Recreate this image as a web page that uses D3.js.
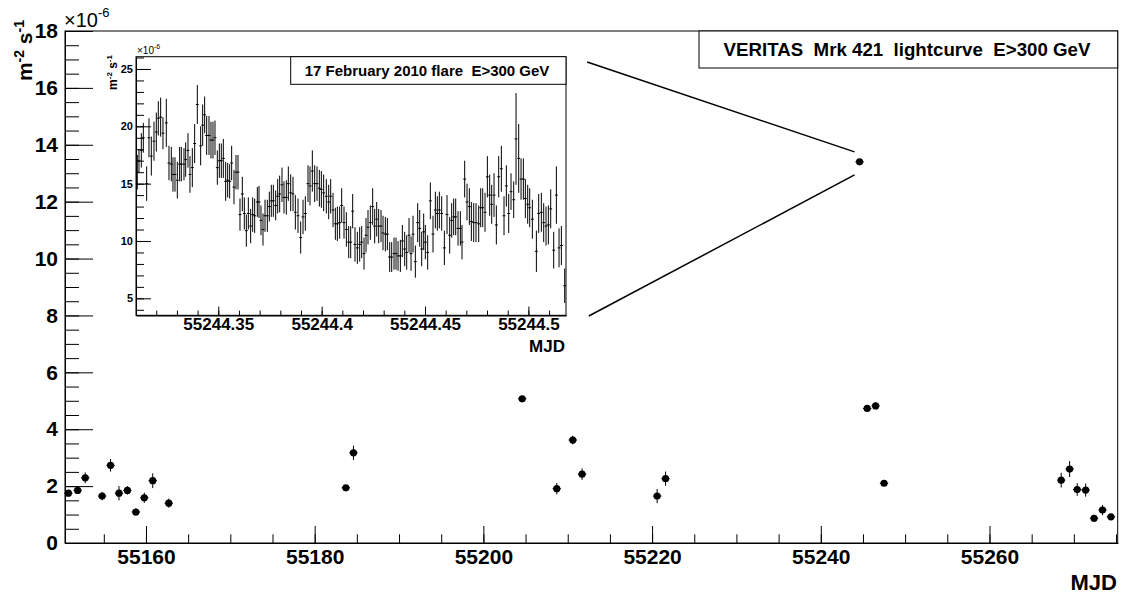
<!DOCTYPE html>
<html>
<head>
<meta charset="utf-8">
<script src="https://cdn.jsdelivr.net/npm/d3@7"></script>
<style>
body { margin: 0; background: #fff; }
text { font-family: "Liberation Sans", Arial, sans-serif; font-weight: bold; fill: #000; }
</style>
</head>
<body>
<svg id="chart" width="1121" height="594"></svg>
<script>
// VERITAS Mrk 421 nightly flux, E>300 GeV (units of 1e-6 m^-2 s^-1)
var mjd = [55150.8, 55151.9, 55152.8, 55154.8, 55155.8, 55156.8, 55157.8, 55158.8, 55159.8, 55160.8,
           55162.7, 55183.7, 55184.6, 55204.6, 55208.7, 55210.6, 55211.7, 55220.6, 55221.6, 55244.6,
           55245.5, 55246.5, 55247.5, 55268.5, 55269.5, 55270.4, 55271.4, 55272.4, 55273.4, 55274.4];
var flux = [1.75, 1.85, 2.29, 1.65, 2.73, 1.75, 1.85, 1.09, 1.59, 2.19,
            1.40, 1.94, 3.17, 5.07, 1.91, 3.62, 2.42, 1.65, 2.26, 13.4,
            4.73, 4.82, 2.10, 2.21, 2.60, 1.88, 1.86, 0.87, 1.16, 0.92];
var fluxErr = [0.10, 0.10, 0.19, 0.15, 0.22, 0.25, 0.15, 0.13, 0.18, 0.26,
               0.16, 0.10, 0.25, 0.08, 0.20, 0.15, 0.20, 0.25, 0.25, 0.10,
               0.08, 0.08, 0.08, 0.26, 0.28, 0.22, 0.23, 0.12, 0.18, 0.10];
var mjdErr = 0.5;

// 17 February 2010 flare, short time bins
var flareMjd = [
  55244.31083, 55244.31164, 55244.31277, 55244.31374, 55244.31535, 55244.31648, 55244.31761, 55244.31890, 55244.32003, 55244.32099,
  55244.32212, 55244.32325, 55244.32486, 55244.32615, 55244.32728, 55244.32809, 55244.32906, 55244.33019, 55244.33131, 55244.33212,
  55244.33341, 55244.33422, 55244.33535, 55244.33631, 55244.33744, 55244.33857, 55244.33986, 55244.34147, 55244.34244, 55244.34341,
  55244.34438, 55244.34551, 55244.34647, 55244.34744, 55244.34841, 55244.34954, 55244.35051, 55244.35147, 55244.35244, 55244.35357,
  55244.35454, 55244.35550, 55244.35647, 55244.35760, 55244.35857, 55244.35954, 55244.36050, 55244.36163, 55244.36260, 55244.36357,
  55244.36454, 55244.36566, 55244.36663, 55244.36760, 55244.36889, 55244.36970, 55244.37066, 55244.37163, 55244.37260, 55244.37373,
  55244.37470, 55244.37566, 55244.37663, 55244.37776, 55244.37873, 55244.37969,
  55244.38083, 55244.38179, 55244.38292, 55244.38389, 55244.38502, 55244.38615, 55244.38728, 55244.38857, 55244.38986, 55244.39099,
  55244.39211, 55244.39340, 55244.39437, 55244.39550, 55244.39663, 55244.39776, 55244.39889, 55244.39986, 55244.40098, 55244.40227,
  55244.40340, 55244.40437, 55244.40550, 55244.40663, 55244.40760, 55244.40872, 55244.40969, 55244.41082, 55244.41195, 55244.41308,
  55244.41405, 55244.41501, 55244.41614, 55244.41727, 55244.41840, 55244.41937, 55244.42050, 55244.42147, 55244.42243, 55244.42356,
  55244.42469, 55244.42566, 55244.42663, 55244.42759, 55244.42872, 55244.42969, 55244.43082, 55244.43179, 55244.43292, 55244.43388,
  55244.43501, 55244.43598, 55244.43695, 55244.43808, 55244.43904, 55244.44017, 55244.44114, 55244.44227, 55244.44324, 55244.44420,
  55244.44533, 55244.44646, 55244.44743, 55244.44840, 55244.44936,
  55244.45016, 55244.45129, 55244.45258, 55244.45387, 55244.45500, 55244.45597, 55244.45694, 55244.45806, 55244.45936, 55244.46065,
  55244.46194, 55244.46290, 55244.46387, 55244.46484, 55244.46597, 55244.46710, 55244.46790, 55244.46919, 55244.47032, 55244.47145,
  55244.47242, 55244.47355, 55244.47468, 55244.47597, 55244.47693, 55244.47790, 55244.47903, 55244.48016, 55244.48129, 55244.48226,
  55244.48338, 55244.48451, 55244.48564, 55244.48693, 55244.48822, 55244.48935, 55244.49048, 55244.49161, 55244.49290, 55244.49403,
  55244.49532, 55244.49645, 55244.49758, 55244.49854, 55244.49967, 55244.50064, 55244.50193, 55244.50387, 55244.50499, 55244.50628,
  55244.50741, 55244.50854, 55244.50967, 55244.51080, 55244.51225, 55244.51354, 55244.51483, 55244.51596, 55244.51757];
var flareFlux = [
  16.0, 17.0, 17.9, 19.0, 15.0, 19.0, 17.4, 18.7, 19.5, 20.7,
  20.8, 19.4, 20.3, 16.8, 16.7, 15.8, 15.8, 15.3, 16.7, 16.7,
  16.7, 17.1, 17.9, 15.8, 16.4, 18.5, 21.9, 18.3, 20.1, 21.0,
  19.2, 19.2, 18.8, 18.8, 19.0, 16.4, 17.0, 17.0, 17.2, 15.2,
  15.3, 15.2, 16.8, 14.7, 16.0, 16.0, 12.3, 14.1, 12.4, 10.9,
  12.4, 11.3, 12.3, 12.2, 13.4, 13.4, 11.8, 11.0, 12.2, 12.2,
  13.0, 13.5, 13.5, 13.1, 13.9, 14.1,
  14.9, 13.8, 13.8, 15.0, 14.2, 14.1, 12.5, 12.2, 10.3, 12.1,
  12.4, 15.0, 14.8, 16.1, 15.0, 15.0, 14.6, 14.5, 14.2, 13.9,
  13.4, 13.9, 12.7, 11.5, 11.5, 11.6, 13.1, 11.6, 11.0, 9.9,
  9.9, 12.6, 9.7, 9.4, 9.7, 9.9, 8.9, 10.5, 11.2, 11.6,
  13.0, 11.3, 11.9, 11.3, 11.3, 10.7, 10.6, 10.6, 8.6, 8.6,
  8.9, 8.9, 8.7, 8.7, 10.0, 9.3, 9.0, 10.5, 8.9, 10.6,
  8.2, 11.6, 11.1, 9.3, 10.8,
  9.9, 9.0, 13.5, 10.6, 12.7, 12.4, 12.7, 12.4, 9.4, 12.3,
  10.5, 11.8, 12.1, 12.1, 11.1, 11.1, 9.9, 15.4, 13.4, 13.0,
  11.7, 11.6, 11.6, 11.5, 12.9, 12.9, 12.5, 15.6, 14.0, 13.2,
  14.0, 11.4, 15.6, 16.3, 12.2, 14.8, 12.4, 14.3, 13.6, 18.9,
  17.2, 15.4, 15.4, 13.7, 13.2, 12.9, 11.9, 9.1, 12.4, 12.5,
  11.6, 11.3, 11.4, 12.8, 9.2, 14.0, 9.4, 9.6, 6.1];
var flareErr = [
  1.5, 1.0, 1.5, 1.3, 1.5, 1.7, 1.7, 1.7, 1.7, 1.5,
  1.7, 1.4, 2.1, 1.5, 1.5, 1.5, 1.5, 1.6, 1.5, 1.5,
  1.4, 1.5, 1.5, 1.6, 1.7, 1.7, 1.7, 1.7, 1.8, 1.6,
  1.7, 1.7, 1.6, 1.6, 1.5, 1.5, 1.5, 1.5, 1.7, 1.7,
  1.5, 1.5, 1.5, 1.5, 1.5, 1.5, 1.4, 1.5, 1.4, 1.4,
  1.4, 1.5, 1.5, 1.5, 1.3, 1.4, 1.3, 1.4, 1.4, 1.4,
  1.3, 1.4, 1.4, 1.3, 1.5, 1.6,
  1.5, 1.4, 1.5, 1.5, 1.6, 1.5, 1.5, 1.5, 1.4, 1.5,
  1.5, 1.6, 1.7, 1.8, 1.6, 1.5, 1.6, 1.6, 1.6, 1.5,
  1.5, 1.5, 1.5, 1.4, 1.5, 1.4, 1.5, 1.4, 1.5, 1.4,
  1.4, 1.5, 1.5, 1.4, 1.5, 1.4, 1.4, 1.5, 1.5, 1.5,
  1.6, 1.5, 1.5, 1.5, 1.4, 1.5, 1.5, 1.4, 1.3, 1.3,
  1.4, 1.4, 1.3, 1.4, 1.4, 1.5, 1.5, 1.5, 1.5, 1.6,
  1.4, 1.7, 1.6, 1.5, 1.6,
  1.5, 1.5, 1.6, 1.6, 1.6, 1.5, 1.6, 1.5, 1.5, 1.7,
  1.6, 1.5, 1.6, 1.6, 1.5, 1.5, 1.5, 1.6, 1.6, 1.6,
  1.7, 1.7, 1.7, 1.6, 1.7, 1.7, 1.7, 1.8, 1.8, 1.7,
  1.9, 1.7, 1.8, 2.0, 1.7, 1.8, 1.7, 1.6, 1.6, 4.0,
  3.0, 1.8, 1.8, 1.7, 1.7, 1.7, 1.7, 1.8, 1.7, 1.7,
  1.7, 1.7, 1.7, 1.7, 1.6, 2.5, 1.7, 1.7, 1.5];
var flareBin = 0.0007;

var xTicks = [55160, 55180, 55200, 55220, 55240, 55260];
var yTicks = [0, 2, 4, 6, 8, 10, 12, 14, 16, 18];
var flareXTicks = [55244.35, 55244.4, 55244.45, 55244.5];
var flareYTicks = [5, 10, 15, 20, 25];

// zoom lines (main plot coords: mjd1, flux1, mjd2, flux2)
var zoomLines = [[55212.3, 16.91, 55244.0, 13.75], [55212.5, 7.98, 55244.0, 12.94]];

var svg = d3.select("#chart");

// ---------- main plot ----------
var x = d3.scaleLinear().domain([55150.4, 55275.2]).range([65, 1117.7]);
var y = d3.scaleLinear().domain([0, 18]).range([543, 31]);

svg.append("g").attr("transform", "translate(0,543)")
  .call(d3.axisBottom(x).tickValues(d3.range(55155, 55276, 5)).tickSize(-8.7).tickSizeOuter(0).tickFormat(""));
var gx = svg.append("g").attr("transform", "translate(0,543)")
  .call(d3.axisBottom(x).tickValues(xTicks).tickSize(-17).tickSizeOuter(0).tickPadding(6).tickFormat(d3.format("d")));
gx.selectAll("text").style("font-size", "21px");

svg.append("g").attr("transform", "translate(65,0)")
  .call(d3.axisLeft(y).tickValues(d3.range(0, 18.01, 0.5)).tickSize(-14).tickSizeOuter(0).tickFormat(""));
var gy = svg.append("g").attr("transform", "translate(65,0)")
  .call(d3.axisLeft(y).tickValues(yTicks).tickSize(-28).tickSizeOuter(0).tickPadding(7).tickFormat(d3.format("d")));
gy.selectAll("text").style("font-size", "21px");

svg.append("rect").attr("x", 65).attr("y", 31).attr("width", 1052.7).attr("height", 512)
  .attr("fill", "none").attr("stroke", "#000");

// axis titles
svg.append("text").attr("x", 1117).attr("y", 590).attr("text-anchor", "end")
  .style("font-size", "22px").text("MJD");

var yt = svg.append("text").attr("transform", "translate(32,20) rotate(-90)")
  .attr("text-anchor", "end").style("font-size", "21px");
yt.append("tspan").text("m");
yt.append("tspan").attr("dy", -8).style("font-size", "14px").text("-2");
yt.append("tspan").attr("dy", 8).text(" s");
yt.append("tspan").attr("dy", -8).style("font-size", "14px").text("-1");

var ex = svg.append("text").attr("x", 64).attr("y", 27).style("font-weight", "normal").style("font-size", "20px");
ex.append("tspan").text("\u00d710");
ex.append("tspan").attr("dy", -10).style("font-size", "13px").text("-6");

// title box
svg.append("rect").attr("x", 699).attr("y", 31).attr("width", 418.7).attr("height", 37)
  .attr("fill", "#fff").attr("stroke", "#000");
svg.append("text").attr("x", 907).attr("y", 56).attr("text-anchor", "middle")
  .style("font-size", "18.7px").style("white-space", "pre")
  .text("VERITAS  Mrk 421  lightcurve  E>300 GeV");

// zoom lines
svg.selectAll(".zoomline").data(zoomLines).enter().append("line")
  .attr("class", "zoomline")
  .attr("x1", function(d) { return x(d[0]); })
  .attr("y1", function(d) { return y(d[1]); })
  .attr("x2", function(d) { return x(d[2]); })
  .attr("y2", function(d) { return y(d[3]); })
  .attr("stroke", "#000").attr("stroke-width", 1.5);

// points with errors
var pts = svg.append("g");
mjd.forEach(function(m, i) {
  pts.append("line").attr("x1", x(m)).attr("x2", x(m))
    .attr("y1", y(flux[i] - fluxErr[i])).attr("y2", y(flux[i] + fluxErr[i]))
    .attr("stroke", "#000");
  pts.append("line").attr("x1", x(m - mjdErr)).attr("x2", x(m + mjdErr))
    .attr("y1", y(flux[i])).attr("y2", y(flux[i]))
    .attr("stroke", "#000");
  pts.append("circle").attr("cx", x(m)).attr("cy", y(flux[i])).attr("r", 3.6).attr("fill", "#000");
});

// ---------- inset: flare ----------
var fx = d3.scaleLinear().domain([55244.3102, 55244.5182]).range([136, 566]);
var fy = d3.scaleLinear().domain([3.52, 26.07]).range([315.3, 56.7]);

svg.append("g").attr("transform", "translate(0,315.3)")
  .call(d3.axisBottom(fx).tickValues(d3.range(55244.32, 55244.515, 0.01)).tickSize(-4.7).tickSizeOuter(0).tickFormat(""));
var fgx = svg.append("g").attr("transform", "translate(0,315.3)")
  .call(d3.axisBottom(fx).tickValues(flareXTicks).tickSize(-8.7).tickSizeOuter(0).tickPadding(3).tickFormat(d3.format("")));
fgx.selectAll("text").style("font-size", "17px");

svg.append("g").attr("transform", "translate(136,0)")
  .call(d3.axisLeft(fy).tickValues(d3.range(4, 26.5, 1)).tickSize(-8).tickSizeOuter(0).tickFormat(""));
var fgy = svg.append("g").attr("transform", "translate(136,0)")
  .call(d3.axisLeft(fy).tickValues(flareYTicks).tickSize(-15).tickSizeOuter(0).tickPadding(3).tickFormat(d3.format("d")));
fgy.selectAll("text").style("font-size", "11px");

var fpts = svg.append("g");
flareMjd.forEach(function(m, i) {
  fpts.append("line").attr("x1", fx(m)).attr("x2", fx(m))
    .attr("y1", fy(flareFlux[i] - flareErr[i])).attr("y2", fy(flareFlux[i] + flareErr[i]))
    .attr("stroke", "#000");
  fpts.append("line").attr("x1", fx(m - flareBin)).attr("x2", fx(m + flareBin))
    .attr("y1", fy(flareFlux[i])).attr("y2", fy(flareFlux[i]))
    .attr("stroke", "#000");
});

svg.append("rect").attr("x", 136).attr("y", 56.7).attr("width", 430).attr("height", 258.6)
  .attr("fill", "none").attr("stroke", "#000");

svg.append("rect").attr("x", 290.7).attr("y", 56.7).attr("width", 275.3).attr("height", 27.6)
  .attr("fill", "#fff").attr("stroke", "#000");
svg.append("text").attr("x", 427).attr("y", 76).attr("text-anchor", "middle")
  .style("font-size", "15px").style("white-space", "pre")
  .text("17 February 2010 flare  E>300 GeV");

svg.append("text").attr("x", 565).attr("y", 352).attr("text-anchor", "end")
  .style("font-size", "17px").text("MJD");

var fyt = svg.append("text").attr("transform", "translate(117,55) rotate(-90)")
  .attr("text-anchor", "end").style("font-size", "12px");
fyt.append("tspan").text("m");
fyt.append("tspan").attr("dy", -5).style("font-size", "8px").text("-2");
fyt.append("tspan").attr("dy", 5).text(" s");
fyt.append("tspan").attr("dy", -5).style("font-size", "8px").text("-1");

var fex = svg.append("text").attr("x", 137).attr("y", 54).style("font-weight", "normal").style("font-size", "10px");
fex.append("tspan").text("\u00d710");
fex.append("tspan").attr("dy", -5).style("font-size", "7px").text("-6");
</script>
</body>
</html>
